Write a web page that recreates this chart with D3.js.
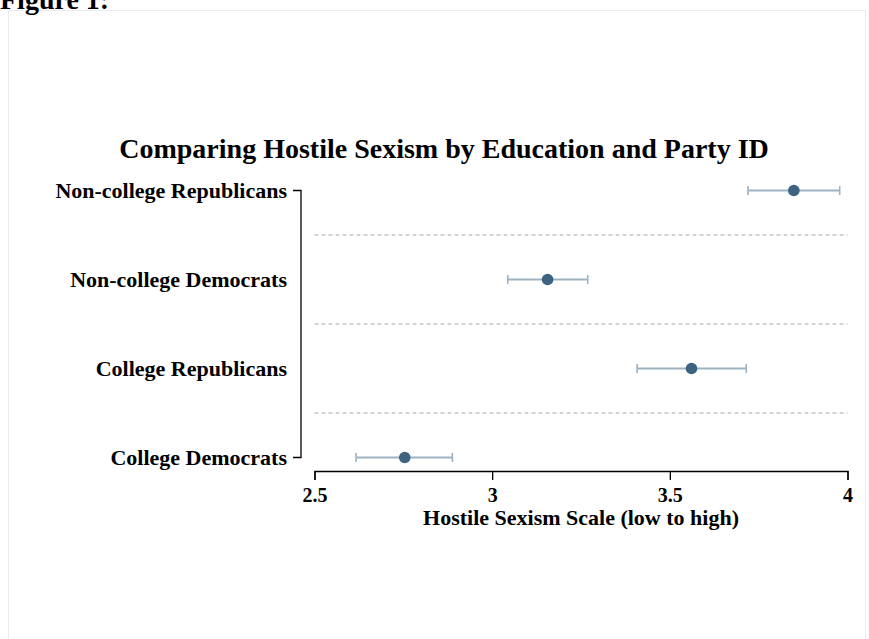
<!DOCTYPE html>
<html><head><meta charset="utf-8">
<script src="https://cdn.jsdelivr.net/npm/d3@7"></script>
<style>body{margin:0;background:#fff;} svg{display:block;font-family:"Liberation Serif","Times New Roman",serif;}</style>
</head><body><svg id="c" width="869" height="639"></svg>
<script>
const categories = ["Non-college Republicans","Non-college Democrats","College Republicans","College Democrats"];
const means = [3.849, 3.156, 3.561, 2.754];
const lower = [3.720, 3.044, 3.408, 2.617];
const upper = [3.978, 3.269, 3.715, 2.888];
const xTicks = [2.5, 3, 3.5, 4];
const title = "Comparing Hostile Sexism by Education and Party ID";
const xTitle = "Hostile Sexism Scale (low to high)";

const svg = d3.select("#c");
svg.append("rect").attr("x",8.5).attr("y",10.5).attr("width",857).attr("height",700)
  .attr("fill","#fff").attr("stroke","#e6ecef").attr("stroke-width",1);
svg.append("text").attr("x",0).attr("y",9).attr("font-size",28).attr("font-weight","bold").text("Figure 1:");

const x = d3.scaleLinear().domain([2.5,4]).range([314.5,847.5]);
const y = d3.scalePoint().domain(categories).range([190.5,457.5]);
const step = y.step();

svg.append("text").attr("x",444).attr("y",158).attr("text-anchor","middle")
  .attr("font-size",28).attr("font-weight","bold").text(title);

// dashed separators
const seps = categories.slice(0,-1).map(c=>y(c)+step/2);
svg.selectAll("line.sep").data(seps).join("line").attr("class","sep")
  .attr("x1",x(2.5)).attr("x2",x(4)).attr("y1",d=>d).attr("y2",d=>d)
  .attr("stroke","#aaaaaa").attr("stroke-width",1.2).attr("stroke-dasharray","4,3");

// y axis
const ya = svg.append("g").attr("transform","translate(301,0)")
  .call(d3.axisLeft(y).tickSize(8).tickPadding(6));
ya.select(".domain").attr("d",`M-8,${y(categories[0])}H0V${y(categories[3])}H-8`).attr("stroke","#000").attr("stroke-width",1.3);
ya.selectAll(".tick line").remove();
ya.selectAll("text").attr("font-size",22).attr("font-weight","bold").attr("font-family","Liberation Serif").attr("fill","#000");

// x axis
const xa = svg.append("g").attr("transform","translate(0,471)")
  .call(d3.axisBottom(x).tickValues(xTicks).tickFormat(d3.format("")).tickSize(9).tickPadding(8));
xa.select(".domain").attr("stroke","#000").attr("stroke-width",1.3);
xa.selectAll(".tick line").attr("stroke","#000").attr("stroke-width",1.3);
xa.selectAll("text").attr("font-size",20).attr("font-weight","bold").attr("font-family","Liberation Serif").attr("fill","#000");
svg.append("text").attr("x",581).attr("y",525).attr("text-anchor","middle")
  .attr("font-size",22).attr("font-weight","bold").text(xTitle);

// error bars
const g = svg.append("g");
categories.forEach((c,i)=>{
  const cy = y(c);
  g.append("line").attr("x1",x(lower[i])).attr("x2",x(upper[i])).attr("y1",cy).attr("y2",cy)
    .attr("stroke","#9db2c3").attr("stroke-width",2);
  [lower[i],upper[i]].forEach(v=>{
    g.append("line").attr("x1",x(v)).attr("x2",x(v)).attr("y1",cy-4.5).attr("y2",cy+4.5)
      .attr("stroke","#9db2c3").attr("stroke-width",1.6);
  });
  g.append("circle").attr("cx",x(means[i])).attr("cy",cy).attr("r",5.8).attr("fill","#3d6380");
});
</script></body></html>
